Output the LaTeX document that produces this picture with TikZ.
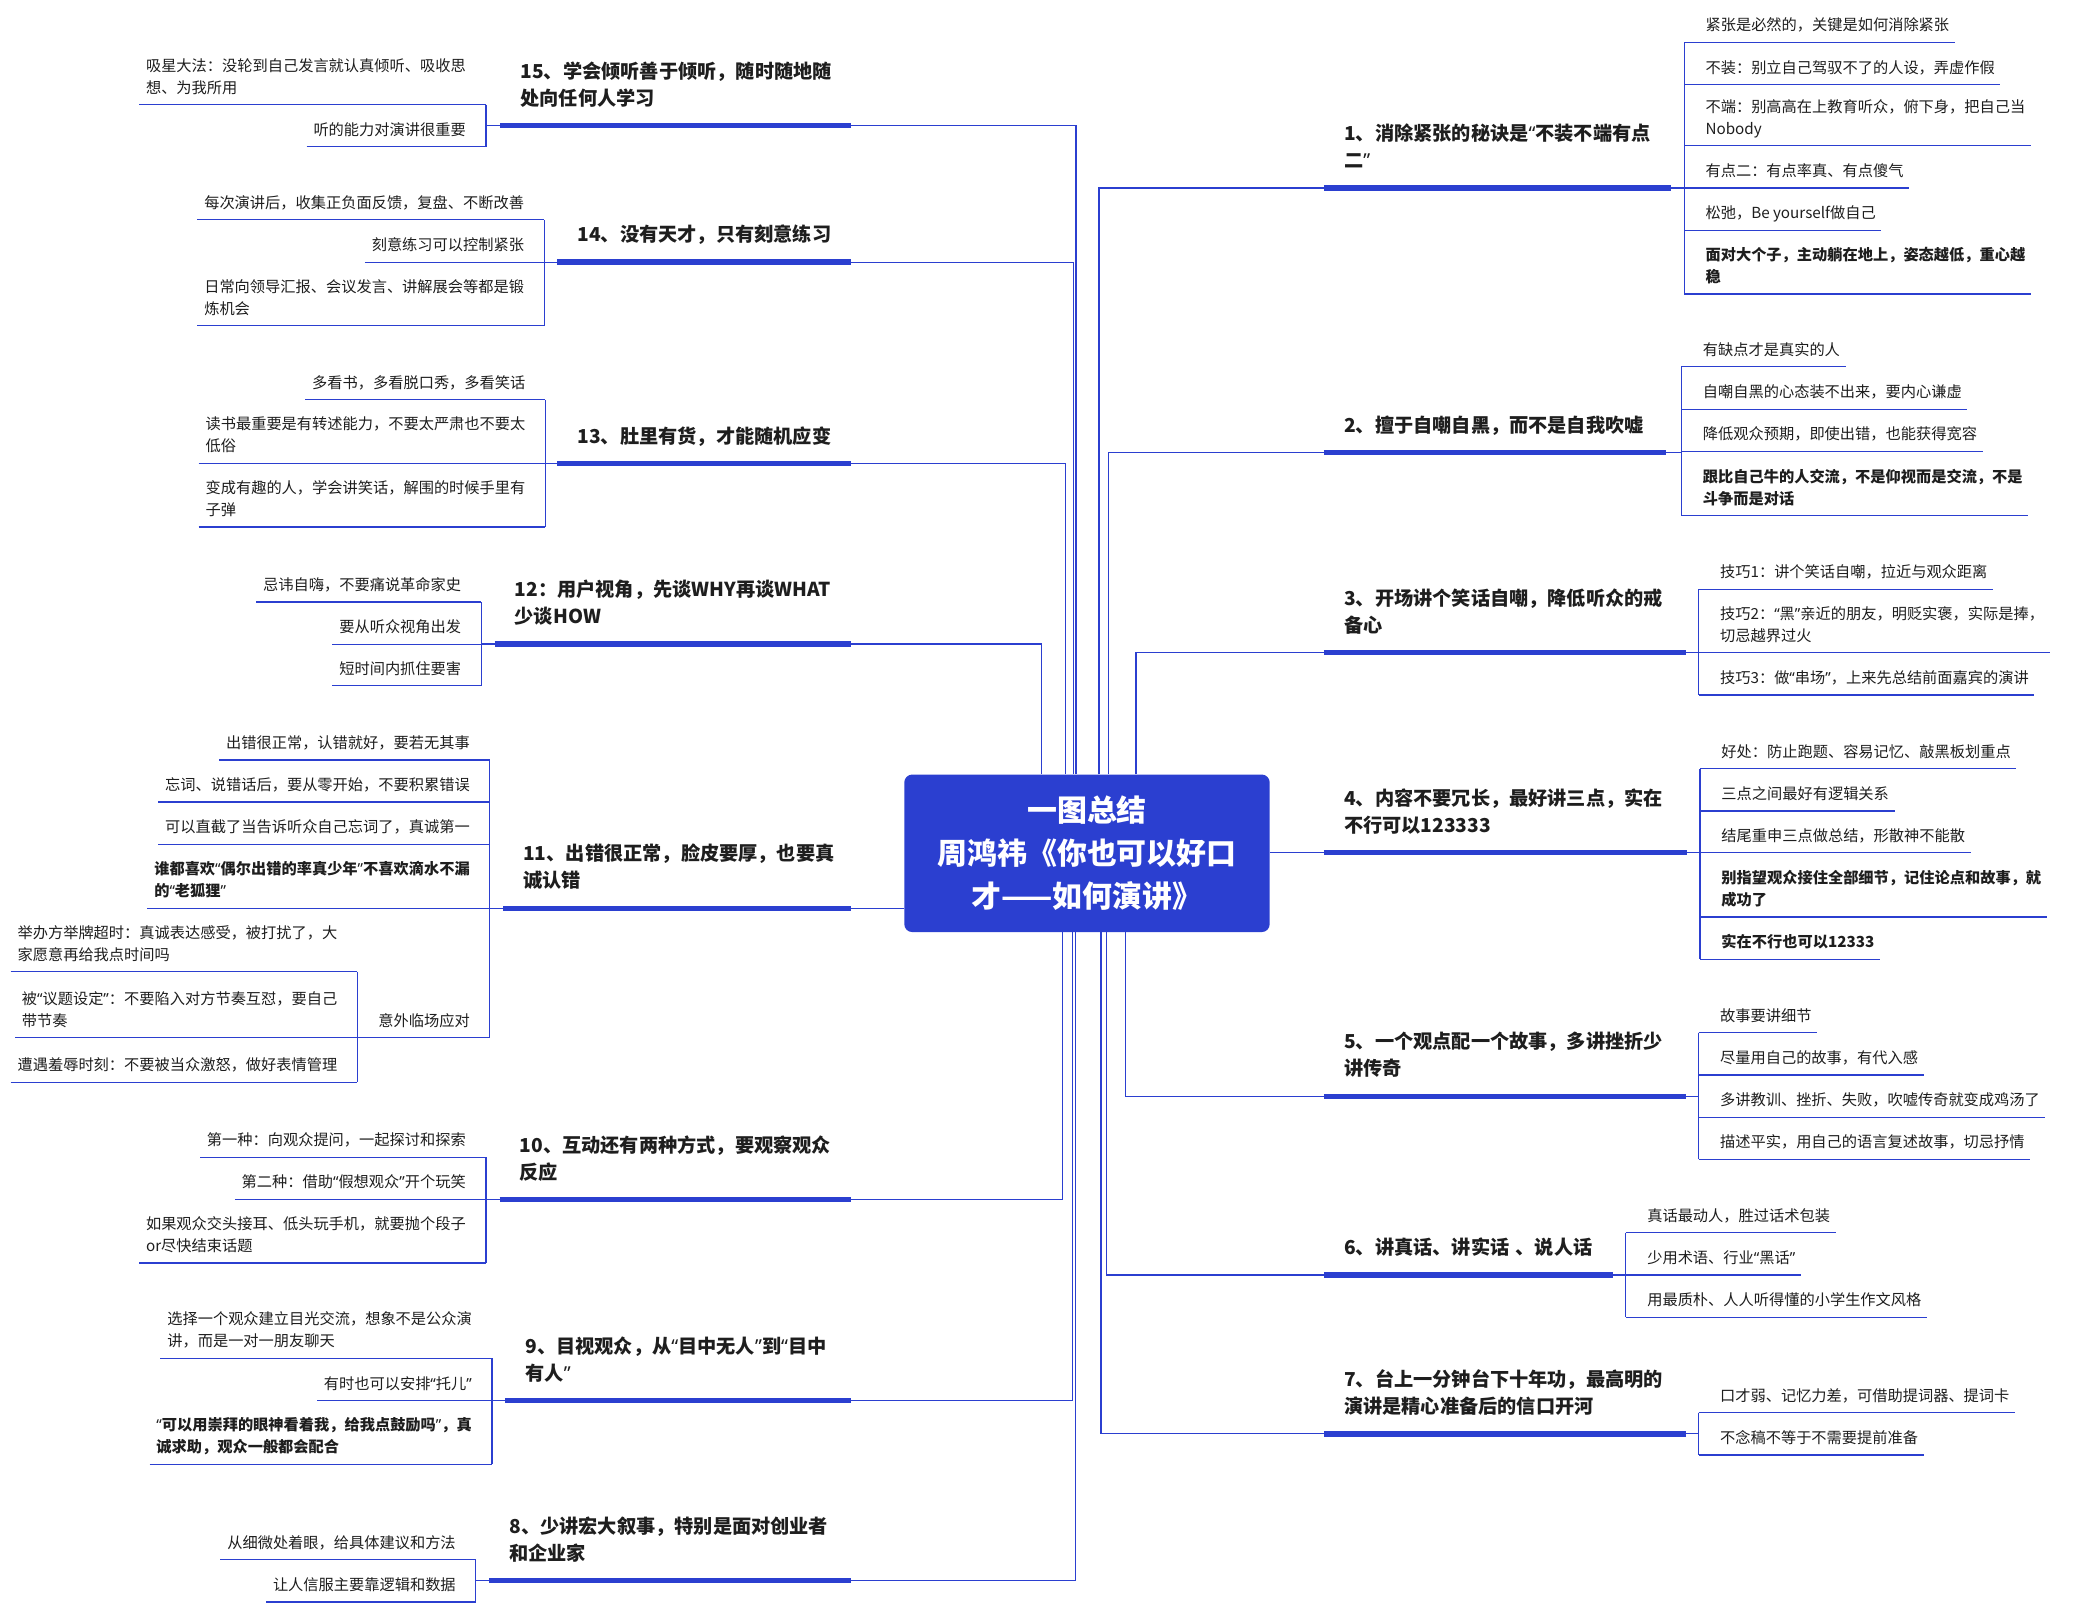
\documentclass[tikz,border=0pt]{standalone}
\usepackage{fontspec}
\setmainfont{Noto Sans CJK SC}
\newfontfamily\qfont{Noto Sans}
\newcommand\oq{{\qfont “}}
\newcommand\cq{{\qfont ”}}
\definecolor{mblue}{HTML}{2B3FD0}
\definecolor{txt}{HTML}{1E1E1E}
\newcommand\RT[1]{\begin{tabular}{@{\hspace{16pt}}l@{\hspace{4pt}}}#1\end{tabular}}
\newcommand\LT[1]{\begin{tabular}{@{\hspace{5pt}}l@{\hspace{15pt}}}#1\end{tabular}}
\newcommand\MT[1]{\begin{tabular}{@{\hspace{15pt}}l@{}}#1\end{tabular}}
\tikzset{
  link/.style={draw=mblue, line width=0.9pt},
  bar/.style={draw=mblue, line width=4pt},
  sub/.style={inner xsep=0pt, inner ysep=3.6pt, text=txt, font=\fontsize{11.5}{16.5}\selectfont},
  subb/.style={sub, font=\fontsize{11.5}{16.5}\selectfont\bfseries},
  topic/.style={inner xsep=0pt, inner ysep=9pt, text=txt, align=left, font=\fontsize{14.5}{20.5}\selectfont\bfseries},
  centre/.style={fill=mblue, rounded corners=6pt, minimum width=276pt, minimum height=119pt, inner sep=0pt, text=white, align=center, font=\fontsize{22.6}{32.5}\selectfont\bfseries}
}
% right item: style, name, x, y, text
\newcommand\RI[5]{\node[#1, anchor=south west] (#2) at (#3,#4) {\RT{#5}}; \draw[link] (#2.south west) -- (#2.south east);}
\newcommand\LI[5]{\node[#1, anchor=south east] (#2) at (#3,#4) {\LT{#5}}; \draw[link] (#2.south west) -- (#2.south east);}
\begin{document}
\begin{tikzpicture}[x=1pt,y=-1pt]
\useasboundingbox (0,0) rectangle (1568,1222);
\fill[white] (0,0) rectangle (1568,1222);

\node[centre] (c) at (821,644.5) {一图总结\\周鸿祎《你也可以好口\\才——如何演讲》};

% ---------------- right topics
\node[topic, text width=262pt, anchor=south west] (t1) at (1000,142) {\MT{1、消除紧张的秘诀是\oq 不装不端有点\\二\cq}};
\node[topic, text width=258pt, anchor=south west] (t2) at (1000,342) {\MT{2、擅于自嘲自黑，而不是自我吹嘘}};
\node[topic, text width=273pt, anchor=south west] (t3) at (1000,493) {\MT{3、开场讲个笑话自嘲，降低听众的戒\\备心}};
\node[topic, text width=274pt, anchor=south west] (t4) at (1000,644) {\MT{4、内容不要冗长，最好讲三点，实在\\不行可以123333}};
\node[topic, text width=273pt, anchor=south west] (t5) at (1000,828) {\MT{5、一个观点配一个故事，多讲挫折少\\讲传奇}};
\node[topic, text width=218pt, anchor=south west] (t6) at (1000,963) {\MT{6、讲真话、讲实话 、说人话}};
\node[topic, text width=273pt, anchor=south west] (t7) at (1000,1083) {\MT{7、台上一分钟台下十年功，最高明的\\演讲是精心准备后的信口开河}};
\foreach \t in {t1,t2,t3,t4,t5,t6,t7} {\draw[bar] (\t.south west) -- (\t.south east);}

% ---------------- left topics
\node[topic, text width=264pt, anchor=south west] (t15) at (378,95) {\MT{15、学会倾听善于倾听，随时随地随\\处向任何人学习}};
\node[topic, text width=221pt, anchor=south west] (t14) at (421,198) {\MT{14、没有天才，只有刻意练习}};
\node[topic, text width=221pt, anchor=south west] (t13) at (421,350) {\MT{13、肚里有货，才能随机应变}};
\node[topic, text width=268.4pt, anchor=south west] (t12) at (373.6,486.4) {\MT{12：用户视角，先谈WHY再谈WHAT\\少谈HOW}};
\node[topic, text width=262pt, anchor=south west] (t11) at (380,686) {\MT{11、出错很正常，脸皮要厚，也要真\\诚认错}};
\node[topic, text width=264.6pt, anchor=south west] (t10) at (377.4,906) {\MT{10、互动还有两种方式，要观察观众\\反应}};
\node[topic, text width=260.4pt, anchor=south west] (t9) at (381.6,1058) {\MT{9、目视观众，从\oq 目中无人\cq 到\oq 目中\\有人\cq}};
\node[topic, text width=272.5pt, anchor=south west] (t8) at (369.5,1194) {\MT{8、少讲宏大叙事，特别是面对创业者\\和企业家}};
\foreach \t in {t15,t14,t13,t12,t11,t10,t9,t8} {\draw[bar] (\t.south west) -- (\t.south east);}

% ---------------- centre connectors
\draw[link] ([xshift=9pt]c.north) |- (t1.south west);
\draw[link] ([xshift=16pt]c.north) |- (t2.south west);
\draw[link] ([xshift=37pt]c.north) |- (t3.south west);
\draw[link] (c.east |- t4.south west) -- (t4.south west);
\draw[link] ([xshift=29pt]c.south) |- (t5.south west);
\draw[link] ([xshift=15pt]c.south) |- (t6.south west);
\draw[link] ([xshift=10.5pt]c.south) |- (t7.south west);
\draw[link] ([xshift=-8.3pt]c.north) |- (t15.south east);
\draw[link] ([xshift=-10.4pt]c.north) |- (t14.south east);
\draw[link] ([xshift=-16pt]c.north) |- (t13.south east);
\draw[link] ([xshift=-34.5pt]c.north) |- (t12.south east);
\draw[link] (c.west |- t11.south east) -- (t11.south east);
\draw[link] ([xshift=-18.4pt]c.south) |- (t10.south east);
\draw[link] ([xshift=-11pt]c.south) |- (t9.south east);
\draw[link] ([xshift=-8.4pt]c.south) |- (t8.south east);

% ---------------- right items
\RI{sub}{r1a}{1272}{32}{紧张是必然的，关键是如何消除紧张}
\RI{sub}{r1b}{1272}{64}{不装：别立自己驾驭不了的人设，弄虚作假}
\RI{sub}{r1c}{1272}{110}{不端：别高高在上教育听众，俯下身，把自己当\\Nobody}
\RI{sub}{r1d}{1272}{142}{有点二：有点率真、有点傻气}
\RI{sub}{r1e}{1272}{174}{松弛，Be yourself做自己}
\RI{subb}{r1f}{1272}{222}{面对大个子，主动躺在地上，姿态越低，重心越\\稳}
\draw[link] (t1.south east) -- (r1a.south west |- t1.south east);
\draw[link] (r1a.south west) -- (r1f.south west);

\RI{sub}{r2a}{1270}{277}{有缺点才是真实的人}
\RI{sub}{r2b}{1270}{309}{自嘲自黑的心态装不出来，要内心谦虚}
\RI{sub}{r2c}{1270}{341}{降低观众预期，即使出错，也能获得宽容}
\RI{subb}{r2d}{1270}{389.5}{跟比自己牛的人交流，不是仰视而是交流，不是\\斗争而是对话}
\draw[link] (t2.south east) -- (r2a.south west |- t2.south east);
\draw[link] (r2a.south west) -- (r2d.south west);

\RI{sub}{r3a}{1283}{445}{技巧1：讲个笑话自嘲，拉近与观众距离}
\RI{sub}{r3b}{1283}{493}{技巧2：\oq 黑\cq 亲近的朋友，明贬实褒，实际是捧，\\切忌越界过火}
\RI{sub}{r3c}{1283}{525}{技巧3：做\oq 串场\cq ，上来先总结前面嘉宾的演讲}
\draw[link] (t3.south east) -- (r3a.south west |- t3.south east);
\draw[link] (r3a.south west) -- (r3c.south west);

\RI{sub}{r4a}{1284}{580.6}{好处：防止跑题、容易记忆、敲黑板划重点}
\RI{sub}{r4b}{1284}{612.5}{三点之间最好有逻辑关系}
\RI{sub}{r4c}{1284}{644}{结尾重申三点做总结，形散神不能散}
\RI{subb}{r4d}{1284}{692.6}{别指望观众接住全部细节，记住论点和故事，就\\成功了}
\RI{subb}{r4e}{1284}{724.5}{实在不行也可以12333}
\draw[link] (t4.south east) -- (r4a.south west |- t4.south east);
\draw[link] (r4a.south west) -- (r4e.south west);

\RI{sub}{r5a}{1283}{780}{故事要讲细节}
\RI{sub}{r5b}{1283}{812}{尽量用自己的故事，有代入感}
\RI{sub}{r5c}{1283}{844}{多讲教训、挫折、失败，吹嘘传奇就变成鸡汤了}
\RI{sub}{r5d}{1283}{875.6}{描述平实，用自己的语言复述故事，切忌抒情}
\draw[link] (t5.south east) -- (r5a.south west |- t5.south east);
\draw[link] (r5a.south west) -- (r5d.south west);

\RI{sub}{r6a}{1228}{931}{真话最动人，胜过话术包装}
\RI{sub}{r6b}{1228}{963}{少用术语、行业\oq 黑话\cq}
\RI{sub}{r6c}{1228}{995}{用最质朴、人人听得懂的小学生作文风格}
\draw[link] (t6.south east) -- (r6a.south west |- t6.south east);
\draw[link] (r6a.south west) -- (r6c.south west);

\RI{sub}{r7a}{1283}{1067}{口才弱、记忆力差，可借助提词器、提词卡}
\RI{sub}{r7b}{1283}{1099}{不念稿不等于不需要提前准备}
\draw[link] (t7.south east) -- (r7a.south west |- t7.south east);
\draw[link] (r7a.south west) -- (r7b.south west);

% ---------------- left items
\LI{sub}{l15a}{367}{79}{吸星大法：没轮到自己发言就认真倾听、吸收思\\想、为我所用}
\LI{sub}{l15b}{367}{110.8}{听的能力对演讲很重要}
\draw[link] (t15.south west) -- (l15a.south east |- t15.south west);
\draw[link] (l15a.south east) -- (l15b.south east);

\LI{sub}{l14a}{411}{166}{每次演讲后，收集正负面反馈，复盘、不断改善}
\LI{sub}{l14b}{411}{198}{刻意练习可以控制紧张}
\LI{sub}{l14c}{411}{246}{日常向领导汇报、会议发言、讲解展会等都是锻\\炼机会}
\draw[link] (t14.south west) -- (l14a.south east |- t14.south west);
\draw[link] (l14a.south east) -- (l14c.south east);

\LI{sub}{l13a}{412}{302}{多看书，多看脱口秀，多看笑话}
\LI{sub}{l13b}{412}{350}{读书最重要是有转述能力，不要太严肃也不要太\\低俗}
\LI{sub}{l13c}{412}{398}{变成有趣的人，学会讲笑话，解围的时候手里有\\子弹}
\draw[link] (t13.south west) -- (l13a.south east |- t13.south west);
\draw[link] (l13a.south east) -- (l13c.south east);

\LI{sub}{l12a}{363.5}{454.7}{忌讳自嗨，不要痛说革命家史}
\LI{sub}{l12b}{363.5}{486.5}{要从听众视角出发}
\LI{sub}{l12c}{363.5}{518}{短时间内抓住要害}
\draw[link] (t12.south west) -- (l12a.south east |- t12.south west);
\draw[link] (l12a.south east) -- (l12c.south east);

\LI{sub}{l11a}{370}{574}{出错很正常，认错就好，要若无其事}
\LI{sub}{l11b}{370}{605.7}{忘词、说错话后，要从零开始，不要积累错误}
\LI{sub}{l11c}{370}{637.6}{可以直截了当告诉听众自己忘词了，真诚第一}
\LI{subb}{l11d}{370}{686}{谁都喜欢\oq 偶尔出错的率真少年\cq 不喜欢滴水不漏\\的\oq 老狐狸\cq}
\LI{sub}{l11e}{370}{783.7}{意外临场应对}
\LI{sub}{l11f}{270}{734}{举办方举牌超时：真诚表达感受，被打扰了，大\\家愿意再给我点时间吗}
\LI{sub}{l11g}{270}{783.7}{被\oq 议题设定\cq ：不要陷入对方节奏互怼，要自己\\带节奏}
\LI{sub}{l11h}{270}{817.5}{遭遇羞辱时刻：不要被当众激怒，做好表情管理}
\draw[link] (t11.south west) -- (l11a.south east |- t11.south west);
\draw[link] (l11a.south east) -- (l11e.south east);
\draw[link] (l11e.south west) -- (l11g.south east);
\draw[link] (l11f.south east) -- (l11h.south east);

\LI{sub}{l10a}{367}{874}{第一种：向观众提问，一起探讨和探索}
\LI{sub}{l10b}{367}{906}{第二种：借助\oq 假想观众\cq 开个玩笑}
\LI{sub}{l10c}{367}{954}{如果观众交头接耳、低头玩手机，就要抛个段子\\or尽快结束话题}
\draw[link] (t10.south west) -- (l10a.south east |- t10.south west);
\draw[link] (l10a.south east) -- (l10c.south east);

\LI{sub}{l9a}{371.6}{1026}{选择一个观众建立目光交流，想象不是公众演\\讲，而是一对一朋友聊天}
\LI{sub}{l9b}{371.6}{1058}{有时也可以安排\oq 托儿\cq}
\LI{subb}{l9c}{371.6}{1106}{\oq 可以用崇拜的眼神看着我，给我点鼓励吗\cq ，真\\诚求助，观众一般都会配合}
\draw[link] (t9.south west) -- (l9a.south east |- t9.south west);
\draw[link] (l9a.south east) -- (l9c.south east);

\LI{sub}{l8a}{359.4}{1178}{从细微处着眼，给具体建议和方法}
\LI{sub}{l8b}{359.4}{1210}{让人信服主要靠逻辑和数据}
\draw[link] (t8.south west) -- (l8a.south east |- t8.south west);
\draw[link] (l8a.south east) -- (l8b.south east);
\end{tikzpicture}
\end{document}
